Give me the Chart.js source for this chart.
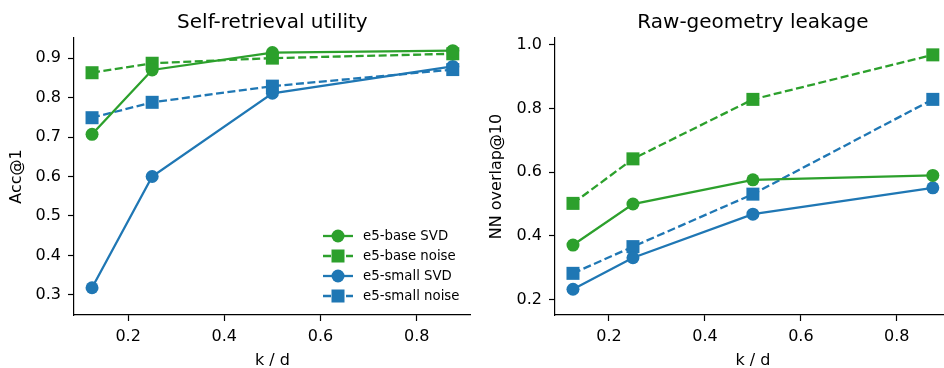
<!DOCTYPE html>
<html>
<head>
<meta charset="utf-8">
<script src="https://cdn.jsdelivr.net/npm/chart.js@4.4.0/dist/chart.umd.min.js"></script>
<style>
html, body { margin: 0; padding: 0; background: #fff; overflow: hidden; width: 944px; height: 368px; }
.panel { position: absolute; top: 0; width: 480px; height: 368px; }
#left { left: 0; }
#right { left: 480px; }
</style>
</head>
<body>
<div class="panel" id="left"><canvas id="utilChart"></canvas></div>
<div class="panel" id="right"><canvas id="leakChart"></canvas></div>
<script>
// x positions (k / d)
const kd = [0.125, 0.25, 0.5, 0.875];
const xTicks = [0.2, 0.4, 0.6, 0.8];

// Self-retrieval utility (Acc@1)
const utilBaseSvd = [0.707, 0.870, 0.914, 0.919];
const utilBaseNoise = [0.863, 0.887, 0.900, 0.911];
const utilSmallSvd = [0.318, 0.600, 0.811, 0.879];
const utilSmallNoise = [0.749, 0.788, 0.829, 0.871];
const utilTicks = [0.3, 0.4, 0.5, 0.6, 0.7, 0.8, 0.9];

// Raw-geometry leakage (NN overlap@10)
const leakBaseSvd = [0.371, 0.500, 0.576, 0.590];
const leakBaseNoise = [0.502, 0.642, 0.829, 0.969];
const leakSmallSvd = [0.232, 0.331, 0.468, 0.551];
const leakSmallNoise = [0.282, 0.366, 0.531, 0.829];
const leakTicks = [0.2, 0.4, 0.6, 0.8, 1.0];

const seriesNames = ["e5-base SVD", "e5-base noise", "e5-small SVD", "e5-small noise"];
const GREEN = "#2ca02c";
const BLUE = "#1f77b4";
const FONT = "DejaVu Sans";

function makeDatasets(vals) {
    const styles = [
        { color: GREEN, dash: [], point: "circle", r: 6.5 },
        { color: GREEN, dash: [8, 3.5], point: "rect", r: 9.2 },
        { color: BLUE, dash: [], point: "circle", r: 6.5 },
        { color: BLUE, dash: [8, 3.5], point: "rect", r: 9.2 }
    ];
    return vals.map(function (v, i) {
        const s = styles[i];
        return {
            label: seriesNames[i],
            data: kd.map(function (x, j) { return { x: x, y: v[j] }; }),
            borderColor: s.color,
            backgroundColor: s.color,
            borderWidth: 2.3,
            borderDash: s.dash,
            pointStyle: s.point,
            pointRadius: s.r,
            pointBorderWidth: 0,
            pointHoverRadius: s.r,
            tension: 0,
            clip: false
        };
    });
}

const panelTitle = {
    id: "panelTitle",
    afterDraw(chart) {
        const ctx = chart.ctx;
        const a = chart.chartArea;
        ctx.save();
        ctx.fillStyle = "#000";
        ctx.font = "20px '" + FONT + "'";
        ctx.textAlign = "center";
        ctx.textBaseline = "alphabetic";
        ctx.fillText(chart.options.plugins.panelTitle.text, (a.left + a.right) / 2, 28);
        ctx.restore();
    }
};

const innerLegend = {
    id: "innerLegend",
    afterDraw(chart) {
        const opts = chart.options.plugins.innerLegend;
        if (!opts || !opts.show) return;
        const ctx = chart.ctx;
        ctx.save();
        ctx.font = "13.3px '" + FONT + "'";
        ctx.textBaseline = "middle";
        ctx.textAlign = "left";
        chart.data.datasets.forEach(function (ds, i) {
            const y = 236 + i * 20;
            ctx.strokeStyle = ds.borderColor;
            ctx.lineWidth = 2.3;
            ctx.setLineDash(ds.borderDash);
            ctx.beginPath();
            ctx.moveTo(323, y);
            ctx.lineTo(353, y);
            ctx.stroke();
            ctx.setLineDash([]);
            ctx.fillStyle = ds.backgroundColor;
            if (ds.pointStyle === "circle") {
                ctx.beginPath();
                ctx.arc(338, y, 6.5, 0, Math.PI * 2);
                ctx.fill();
            } else {
                ctx.fillRect(338 - 6.5, y - 6.5, 13, 13);
            }
            ctx.fillStyle = "#000";
            ctx.fillText(ds.label, 363, y + 1);
        });
        ctx.restore();
    }
};

function makeChart(id, title, yLabel, vals, yMin, yMax, yTicks, legend, yWidth) {
    return new Chart(document.getElementById(id), {
        type: "line",
        data: { datasets: makeDatasets(vals) },
        plugins: [panelTitle, innerLegend],
        options: {
            responsive: true,
            maintainAspectRatio: false,
            animation: false,
            events: [],
            layout: { padding: { top: 38, right: 8, left: 0, bottom: 0 } },
            plugins: {
                legend: { display: false },
                tooltip: { enabled: false },
                panelTitle: { text: title },
                innerLegend: { show: legend }
            },
            scales: {
                x: {
                    type: "linear",
                    min: 0.0875,
                    max: 0.9125,
                    afterBuildTicks: function (s) { s.ticks = xTicks.map(function (v) { return { value: v }; }); },
                    afterFit: function (s) { s.height = 53; },
                    grid: { drawOnChartArea: false, drawTicks: true, tickLength: 6, tickColor: "#000", tickWidth: 1.2 },
                    border: { display: true, color: "#000", width: 1.2 },
                    ticks: {
                        color: "#000",
                        padding: 6,
                        maxRotation: 0,
                        font: { family: FONT, size: 16 },
                        callback: function (v) { return v.toFixed(1); }
                    },
                    title: { display: true, text: "k / d", color: "#000", font: { family: FONT, size: 16 }, padding: { top: 0, bottom: -2 } }
                },
                y: {
                    type: "linear",
                    min: yMin,
                    max: yMax,
                    afterBuildTicks: function (s) { s.ticks = yTicks.map(function (v) { return { value: v }; }); },
                    afterFit: function (s) { s.width = yWidth; },
                    grid: { drawOnChartArea: false, drawTicks: true, tickLength: 6, tickColor: "#000", tickWidth: 1.2 },
                    border: { display: true, color: "#000", width: 1.2 },
                    ticks: {
                        color: "#000",
                        padding: 7,
                        font: { family: FONT, size: 16 },
                        callback: function (v) { return v.toFixed(1); }
                    },
                    title: { display: true, text: yLabel, color: "#000", font: { family: FONT, size: 16 }, padding: { top: 7, bottom: 0 } }
                }
            }
        }
    });
}

makeChart("utilChart", "Self-retrieval utility", "Acc@1",
    [utilBaseSvd, utilBaseNoise, utilSmallSvd, utilSmallNoise], 0.249, 0.951, utilTicks, true, 74);
makeChart("leakChart", "Raw-geometry leakage", "NN overlap@10",
    [leakBaseSvd, leakBaseNoise, leakSmallSvd, leakSmallNoise], 0.151, 1.022, leakTicks, false, 75);
</script>
</body>
</html>
